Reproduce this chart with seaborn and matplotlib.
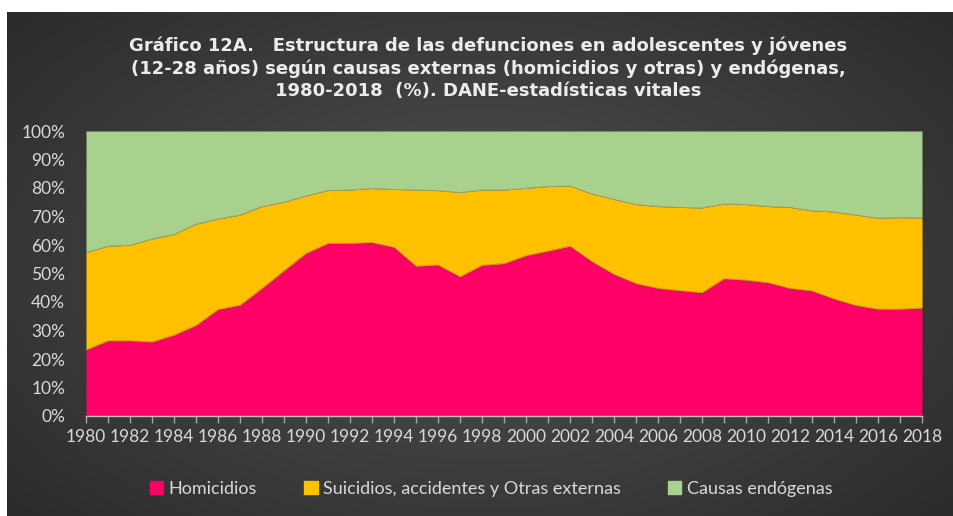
import numpy as np
import pandas as pd
import seaborn as sns
import matplotlib
matplotlib.use("Agg")
import matplotlib.pyplot as plt
from matplotlib.patches import Patch

# Shares (%) of deaths among 12-28 year olds, by cause group
years = list(range(1980, 2019))
homicidios = [23.2, 26.4, 26.4, 26.0, 28.4, 31.8, 37.4, 38.9, 44.8, 51.0,
              57.1, 60.6, 60.6, 60.9, 59.2, 52.6, 53.0, 48.9, 52.9, 53.5,
              56.3, 57.9, 59.6, 54.2, 49.7, 46.5, 44.8, 44.0, 43.3, 48.2,
              47.7, 46.8, 44.8, 43.9, 41.1, 38.8, 37.5, 37.5, 37.9]
otras_externas = [34.1, 33.2, 33.5, 36.1, 35.3, 35.5, 31.7, 31.6, 28.7, 24.0,
                  20.1, 18.5, 18.7, 18.9, 20.3, 26.7, 26.1, 29.5, 26.4, 25.8,
                  23.6, 22.6, 21.1, 23.7, 26.3, 27.7, 28.7, 29.2, 29.7, 26.2,
                  26.5, 26.7, 28.4, 28.1, 30.5, 31.7, 31.9, 32.1, 31.6]
endogenas = [42.7, 40.4, 40.1, 37.9, 36.3, 32.7, 30.9, 29.5, 26.5, 25.0,
             22.8, 20.9, 20.7, 20.2, 20.5, 20.7, 20.9, 21.6, 20.7, 20.7,
             20.1, 19.5, 19.3, 22.1, 24.0, 25.8, 26.5, 26.8, 27.0, 25.6,
             25.8, 26.5, 26.8, 28.0, 28.4, 29.5, 30.6, 30.4, 30.5]

series_names = ["Homicidios", "Suicidios, accidentes y Otras externas", "Causas endógenas"]
series_colors = ["#FF0066", "#FFC000", "#A9D18E"]
x_labels = [str(y) for y in range(1980, 2019, 2)]

title = ("Gráfico 12A.   Estructura de las defunciones en adolescentes y jóvenes\n"
         "(12-28 años) según causas externas (homicidios y otras) y endógenas,\n"
         "1980-2018  (%). DANE-estadísticas vitales")

df = pd.DataFrame({"year": years, series_names[0]: homicidios,
                   series_names[1]: otras_externas, series_names[2]: endogenas})
cum = df[series_names].cumsum(axis=1)
cum.insert(0, "base", 0.0)

sns.set_theme(style="white")
plt.rcParams["font.family"] = ["Lato", "DejaVu Sans"]

W, H = 954, 516
fig = plt.figure(figsize=(W / 100, H / 100), dpi=100, facecolor="white")

# dark radial-gradient panel behind the chart
bg = fig.add_axes([7 / W, 0, 1 - 7 / W, (H - 12) / H], zorder=-5)
gy, gx = np.mgrid[0:300, 0:560]
cx, cy = 280, 150
r = np.sqrt(((gx - cx) / 420) ** 2 + ((gy - cy) / 250) ** 2)
r = np.clip(r, 0, 1)
c0, c1 = np.array([0x52, 0x52, 0x52]) / 255, np.array([0x27, 0x27, 0x27]) / 255
img = c0[None, None, :] * (1 - r[..., None]) + c1[None, None, :] * r[..., None]
bg.imshow(img, aspect="auto", extent=[0, 1, 0, 1], interpolation="bilinear")
bg.set_axis_off()

ax = fig.add_axes([86 / W, (H - 416) / H, (922 - 86) / W, (416 - 131) / H])
ax.set_facecolor("none")

for i, name in enumerate(series_names):
    lower = cum.iloc[:, i].values
    upper = cum[name].values
    ax.fill_between(df["year"], lower, upper, color=series_colors[i],
                    linewidth=0, label=name)
# thin boundary lines between the stacked bands
for name in series_names[:2]:
    sns.lineplot(x=df["year"], y=cum[name], ax=ax, color="#9a7a40",
                 linewidth=0.6, alpha=0.6, legend=False)

ax.set_xlim(1980, 2018)
ax.set_ylim(0, 100)
ax.set_xlabel("")
ax.set_ylabel("")

tick_color = "#d9d9d9"
ax.set_yticks(np.arange(0, 101, 10))
ax.set_yticklabels([f"{v}%" for v in range(0, 101, 10)], color=tick_color, fontsize=12.5)
ax.tick_params(axis="y", length=0, pad=15)

ax.set_xticks(range(1980, 2019, 2))
ax.set_xticklabels(x_labels, color=tick_color, fontsize=12.5)
ax.set_xticks(range(1980, 2019), minor=True)
ax.tick_params(axis="x", which="both", direction="out", length=5, width=1,
               color="#a6a6a6", pad=4, bottom=True)

for s in ["top", "right", "left"]:
    ax.spines[s].set_visible(False)
ax.spines["bottom"].set_color("#bfbfbf")
ax.spines["bottom"].set_linewidth(1)

fig.text(488 / W, 1 - 68 / H, title, ha="center", va="center", color="#ececec",
         fontsize=13, fontweight="bold", linespacing=1.3,
         family=["DejaVu Sans"])

handles = [Patch(facecolor=c, edgecolor=c, label=n) for n, c in zip(series_names, series_colors)]
fig.legend(handles=handles, loc="center", bbox_to_anchor=(491 / W, 1 - 489 / H),
           ncol=3, frameon=False, fontsize=13, labelcolor=tick_color,
           handlelength=0.75, handleheight=0.75, handletextpad=0.3, columnspacing=2.6)

fig.savefig("out.png", dpi=100, facecolor="white")
